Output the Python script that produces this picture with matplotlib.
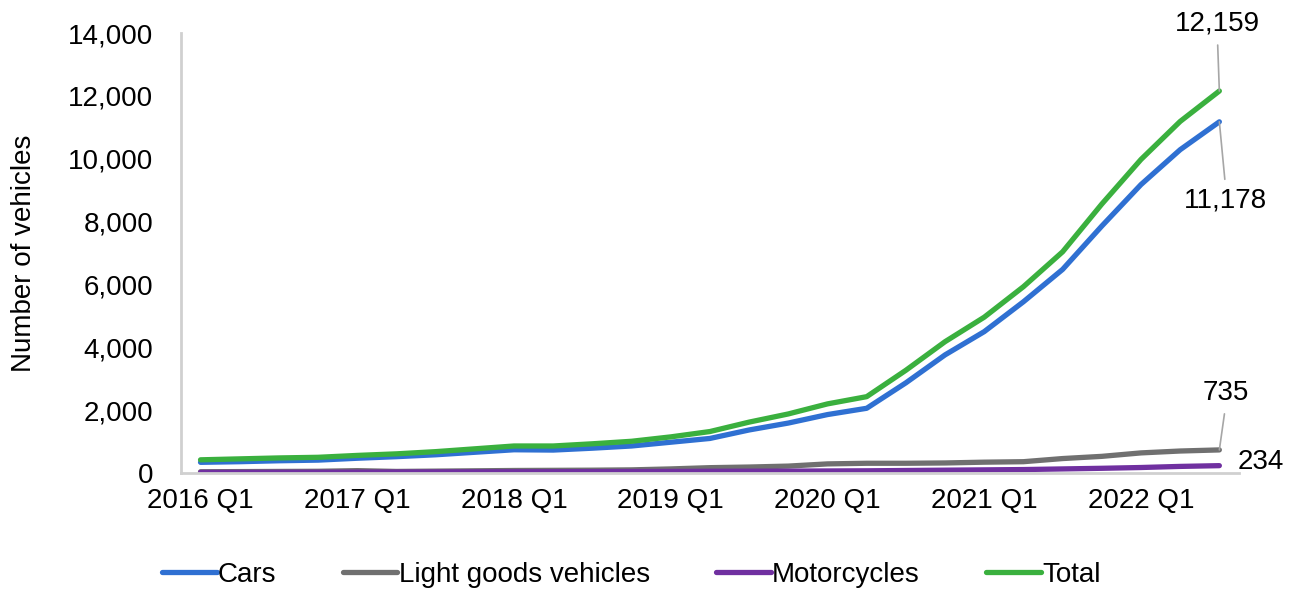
import matplotlib.pyplot as plt

plt.rcParams['font.family'] = ['Liberation Sans', 'DejaVu Sans']

# quarterly, 2016 Q1 .. 2022 Q3
quarters = [f'{y} Q{q}' for y in range(2016, 2023) for q in range(1, 5)][:27]
cars = [340, 360, 390, 410, 470, 520, 580, 660, 740, 730, 790, 860, 980, 1100,
        1370, 1590, 1860, 2060, 2870, 3760, 4500, 5450, 6480, 7860, 9180, 10290, 11178]
lgv = [40, 45, 50, 55, 75, 50, 60, 70, 80, 85, 90, 100, 130, 170,
       190, 220, 290, 310, 310, 320, 345, 360, 460, 530, 640, 700, 735]
moto = [20, 22, 25, 27, 30, 32, 35, 38, 40, 42, 45, 48, 50, 55,
        58, 60, 65, 70, 80, 90, 100, 110, 130, 150, 175, 210, 234]
total = [420, 450, 480, 500, 560, 610, 680, 770, 860, 860, 930, 1010, 1150, 1320,
         1620, 1880, 2200, 2430, 3270, 4180, 4960, 5930, 7040, 8560, 9980, 11190, 12159]

series = [('Cars', cars, '#2F70D2'),
          ('Light goods vehicles', lgv, '#707070'),
          ('Motorcycles', moto, '#7030A0'),
          ('Total', total, '#3AB03E')]

FS = 20

fig = plt.figure(figsize=(12.98, 5.92), dpi=100)
ax = fig.add_axes([0.1394, 0.201, 0.8151, 0.743])

x = list(range(len(quarters)))
for name, vals, col in series:
    ax.plot(x, vals, color=col, lw=3.8, label=name, solid_capstyle='round')

ax.set_xlim(-0.5, len(quarters) - 0.5)
ax.set_ylim(0, 14000)
ax.set_yticks(range(0, 14001, 2000))
ax.set_yticklabels([f'{v:,}' for v in range(0, 14001, 2000)])
ax.set_xticks(x[::4])
ax.set_xticklabels(quarters[::4])
ax.tick_params(length=0, labelsize=FS)
ax.tick_params(axis='y', pad=20)
ax.tick_params(axis='x', pad=11)
for s in ['top', 'right']:
    ax.spines[s].set_visible(False)
for s in ['left', 'bottom']:
    ax.spines[s].set_color('#d0d0d0')
    ax.spines[s].set_linewidth(2)
ax.set_ylabel('Number of vehicles', fontsize=FS)
ax.yaxis.set_label_coords(-0.136, 0.5)

last = len(quarters) - 1
lead = dict(arrowstyle='-', color='#a6a6a6', lw=1.2, shrinkA=4, shrinkB=0)
ax.annotate(f'{total[-1]:,}', xy=(last, total[-1]), xytext=(25.95, 14300),
            ha='center', va='center', fontsize=FS, annotation_clip=False,
            arrowprops=dict(lead, relpos=(0.5, 0.0)))
ax.annotate(f'{cars[-1]:,}', xy=(last, cars[-1]), xytext=(26.16, 8670),
            ha='center', va='center', fontsize=FS, annotation_clip=False,
            arrowprops=dict(lead, relpos=(0.5, 1.0)))
ax.annotate(f'{lgv[-1]:,}', xy=(last, lgv[-1]), xytext=(26.16, 2560),
            ha='center', va='center', fontsize=FS, annotation_clip=False,
            arrowprops=dict(lead, relpos=(0.5, 0.0)))
ax.annotate(f'{moto[-1]:,}', xy=(last, moto[-1]), xytext=(26.46, 365),
            ha='left', va='center', fontsize=FS, annotation_clip=False)

fig.legend(loc='center', bbox_to_anchor=(0.4865, 0.029), ncol=4, frameon=False,
           fontsize=FS, handlelength=1.95, handletextpad=0.05, columnspacing=2.4)

fig.savefig('out.png', dpi=100)
